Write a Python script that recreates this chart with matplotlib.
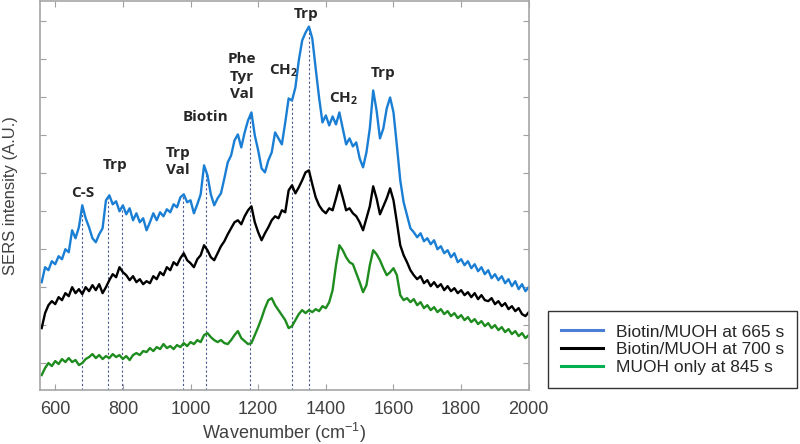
import numpy as np
import matplotlib.pyplot as plt
from matplotlib.lines import Line2D

# wavenumber grid (cm-1), one sample every 10 cm-1
wavenumber = np.arange(560, 2001, 10)

# SERS intensity (A.U.)
biotin_665 = [
    108, 123, 120, 129, 126, 134, 131, 141, 138, 160,
    152, 163, 185, 172, 163, 152, 148, 156, 162, 190,
    195, 186, 189, 179, 185, 176, 182, 170, 177, 168,
    172, 160, 168, 177, 170, 178, 174, 181, 178, 186,
    183, 193, 196, 188, 190, 177, 186, 196, 225, 215,
    196, 185, 192, 197, 212, 228, 235, 250, 256, 243,
    258, 270, 278, 255, 240, 222, 218, 230, 238, 258,
    252, 246, 268, 292, 290, 303, 330, 350, 358, 364,
    352, 322, 293, 268, 275, 265, 274, 266, 278, 262,
    246, 252, 244, 248, 232, 223, 238, 262, 300, 280,
    252, 262, 282, 293, 278, 245, 210, 188, 175, 162,
    158, 153, 157, 149, 152, 146, 150, 141, 144, 137,
    140, 133, 137, 128, 131, 125, 129, 122, 126, 119,
    123, 116, 120, 112, 116, 110, 114, 107, 111, 104,
    109, 101, 106, 99, 103,
]
biotin_700 = [
    62, 77, 85, 89, 86, 93, 90, 97, 94, 103,
    97, 101, 96, 103, 99, 105, 100, 106, 97, 103,
    110, 116, 113, 123, 118, 115, 110, 114, 108, 111,
    106, 109, 107, 114, 111, 118, 115, 123, 120, 128,
    125, 132, 137, 130, 127, 123, 131, 135, 145, 140,
    133, 130, 137, 144, 149, 156, 162, 168, 170, 166,
    174, 180, 184, 168, 158, 150, 157, 163, 170, 174,
    172, 180, 178, 200, 205, 197, 203, 210, 218, 220,
    206, 193, 185, 180, 177, 182, 180, 192, 205, 193,
    180, 182, 177, 174, 168, 160, 172, 184, 204, 192,
    176, 184, 192, 202, 190, 168, 145, 135, 128, 120,
    115, 111, 114, 107, 110, 104, 108, 103, 106, 100,
    104, 99, 102, 97, 100, 95, 98, 93, 97, 91,
    95, 90, 89, 92, 86, 89, 84, 87, 81, 84,
    79, 82, 76, 74, 78,
]
muoh_845 = [
    15, 22, 27, 24, 29, 26, 31, 28, 32, 28,
    30, 25, 27, 31, 33, 36, 32, 35, 31, 34,
    32, 36, 33, 35, 31, 34, 30, 35, 37, 35,
    39, 38, 42, 39, 43, 41, 46, 42, 44, 41,
    45, 43, 47, 44, 48, 46, 50, 48, 55, 57,
    53, 50, 48, 50, 47, 46, 50, 55, 59, 52,
    49, 46, 47, 55, 63, 72, 82, 90, 92, 85,
    80, 75, 70, 62, 64, 70, 76, 80, 77, 80,
    78, 81, 79, 84, 82, 88, 100, 125, 145, 140,
    133, 128, 126, 117, 108, 98, 105, 125, 140, 136,
    130, 122, 115, 118, 122, 115, 95, 90, 92, 88,
    91, 85, 88, 82, 85, 80, 83, 78, 81, 76,
    79, 74, 77, 72, 75, 70, 73, 68, 71, 66,
    69, 64, 67, 62, 65, 60, 63, 58, 61, 56,
    59, 54, 57, 52, 55,
]
series_labels = ["Biotin/MUOH at 665 s", "Biotin/MUOH at 700 s", "MUOH only at 845 s"]

# assigned bands: position and label
band_pos = [680, 755, 798, 978, 1045, 1175, 1300, 1350]
peak_labels = ["C-S", "Trp", "Trp\nVal", "Biotin", "Phe\nTyr\nVal",
               r"$\mathregular{CH_2}$", "Trp", r"$\mathregular{CH_2}$", "Trp"]
peak_label_x = [680, 777, 963, 1043, 1152, 1274, 1341, 1451, 1569]
peak_label_y = [197, 225, 229, 273, 314, 320, 377, 292, 318]

plt.rcParams['font.family'] = ['Liberation Sans', 'DejaVu Sans']

fig = plt.figure(figsize=(8, 4.44), dpi=100)
ax = fig.add_axes([0.05, 0.1216, 0.611, 0.877])

line_colors = ["#1a7fd4", "#000000", "#1e8c1e"]
for y, c in zip([biotin_665, biotin_700, muoh_845], line_colors):
    ax.plot(wavenumber, y, color=c, lw=1.7)

blue_top = np.interp(band_pos, wavenumber, biotin_665)
for x, top in zip(band_pos, blue_top):
    ax.plot([x, x], [0, top], color="#4a5a90", lw=0.8, ls=(0, (2, 2)), zorder=0)

for t, x, y in zip(peak_labels, peak_label_x, peak_label_y):
    ax.text(x, y, t, ha="center", va="center", fontsize=11, fontweight="bold",
            family=["Open Sans", "DejaVu Sans"], color="#262626", linespacing=1.3)

ax.set_xlim(555, 2000)
ax.set_ylim(0, 390)
ax.set_xticks(range(600, 2001, 200))
ax.set_yticks(np.arange(27, 390, 38.1))
ax.set_yticklabels([])
ax.tick_params(direction="in", length=4, color="#a0a0a0", top=True, right=True,
               labelsize=13, labelcolor="#404040", pad=8)
for s in ax.spines.values():
    s.set_color("#a6a6a6")
    s.set_linewidth(1.2)

ax.set_xlabel(r"Wavenumber (cm$^{\mathregular{-1}}$)", fontsize=13, color="#404040", labelpad=2)
ax.set_ylabel("SERS intensity (A.U.)", fontsize=12, color="#404040", labelpad=8)

handles = [Line2D([], [], color=c, lw=2.2) for c in ["#4a7ed4", "#000000", "#00b050"]]
fig.legend(handles, series_labels, loc="lower left", bbox_to_anchor=(0.685, 0.126),
           fontsize=12.5, frameon=True, fancybox=False, edgecolor="black",
           handlelength=2.4, handletextpad=0.75, labelspacing=0.15, borderpad=0.75,
           borderaxespad=0, labelcolor="#262626").get_frame().set_linewidth(1.0)

fig.savefig("out.png", dpi=100)
